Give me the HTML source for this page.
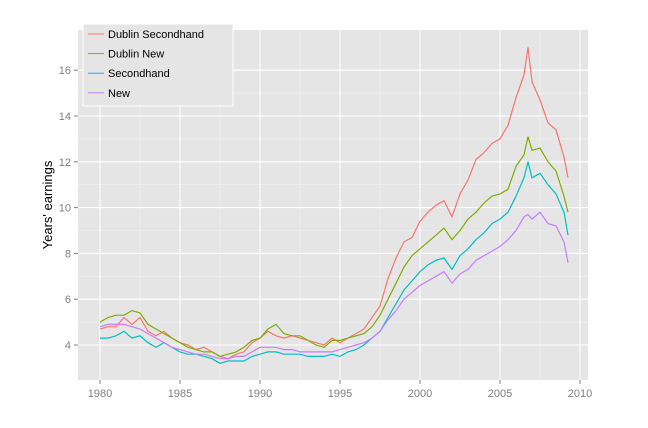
<!DOCTYPE html>
<html><head><meta charset="utf-8"><style>
html,body{margin:0;padding:0;background:#fff;}
svg{display:block;font-family:"Liberation Sans",Arial,sans-serif;}
</style></head><body>
<svg id="chart" width="648" height="428" viewBox="0 0 648 428" xmlns="http://www.w3.org/2000/svg">
<rect x="78" y="30" width="510" height="350" fill="#E5E5E5"/>
<g id="grid"></g>
<g id="series"></g>
<g id="axes"></g>
<text transform="translate(52,205) rotate(-90)" text-anchor="middle" font-size="13" fill="#000">Years' earnings</text>
<g id="legend">
<rect x="83" y="24" width="150" height="82" fill="#E5E5E5" stroke="#fff" stroke-width="1"/>
</g>
</svg>
<script>
const years=[1980,1980.5,1981,1981.5,1982,1982.5,1983,1983.5,1984,1984.5,1985,1985.5,1986,1986.5,1987,1987.5,1988,1988.5,1989,1989.5,1990,1990.5,1991,1991.5,1992,1992.5,1993,1993.5,1994,1994.5,1995,1995.5,1996,1996.5,1997,1997.5,1998,1998.5,1999,1999.5,2000,2000.5,2001,2001.5,2002,2002.5,2003,2003.5,2004,2004.5,2005,2005.5,2006,2006.5,2006.75,2007,2007.5,2008,2008.5,2009,2009.25];
const dublinSecondhand=[4.7,4.8,4.8,5.2,4.9,5.2,4.6,4.4,4.6,4.3,4.1,4.0,3.8,3.9,3.7,3.5,3.4,3.6,3.7,4.1,4.3,4.6,4.4,4.3,4.4,4.3,4.2,4.1,4.0,4.3,4.1,4.3,4.5,4.7,5.2,5.7,6.9,7.8,8.5,8.7,9.4,9.8,10.1,10.3,9.6,10.6,11.2,12.1,12.4,12.8,13.0,13.6,14.8,15.8,17.0,15.5,14.7,13.7,13.4,12.2,11.3];
const dublinNew=[5.0,5.2,5.3,5.3,5.5,5.4,4.9,4.7,4.5,4.3,4.1,3.9,3.8,3.7,3.7,3.5,3.6,3.7,3.9,4.2,4.3,4.7,4.9,4.5,4.4,4.4,4.2,4.0,3.9,4.2,4.2,4.3,4.4,4.5,4.8,5.3,6.0,6.7,7.4,7.9,8.2,8.5,8.8,9.1,8.6,9.0,9.5,9.8,10.2,10.5,10.6,10.8,11.8,12.3,13.1,12.5,12.6,12.0,11.6,10.5,9.8];
const secondhand=[4.3,4.3,4.4,4.6,4.3,4.4,4.1,3.9,4.1,3.9,3.7,3.6,3.6,3.5,3.4,3.2,3.3,3.3,3.3,3.5,3.6,3.7,3.7,3.6,3.6,3.6,3.5,3.5,3.5,3.6,3.5,3.7,3.8,4.0,4.3,4.6,5.2,5.8,6.4,6.8,7.2,7.5,7.7,7.8,7.3,7.9,8.2,8.6,8.9,9.3,9.5,9.8,10.5,11.3,12.0,11.3,11.5,11.0,10.6,9.8,8.8];
const newHomes=[4.8,4.9,4.9,4.9,4.8,4.7,4.5,4.3,4.1,3.9,3.8,3.7,3.6,3.6,3.5,3.4,3.4,3.5,3.5,3.7,3.9,3.9,3.9,3.8,3.8,3.7,3.7,3.7,3.7,3.7,3.8,3.9,4.0,4.1,4.3,4.6,5.1,5.5,6.0,6.3,6.6,6.8,7.0,7.2,6.7,7.1,7.3,7.7,7.9,8.1,8.3,8.6,9.0,9.6,9.7,9.5,9.8,9.3,9.2,8.5,7.6];
const seriesNames=["Dublin Secondhand","Dublin New","Secondhand","New"];
const xTicks=[1980,1985,1990,1995,2000,2005,2010];
const yTicks=[4,6,8,10,12,14,16];

const NS="http://www.w3.org/2000/svg";
const colors=["#F8766D","#7CAE00","#00BFC4","#C77CFF"];
const X=v=>100+(v-1980)*16;
const Y=v=>345-(v-4)*22.9;
function mk(tag,attrs,parent){const e=document.createElementNS(NS,tag);for(const k in attrs)e.setAttribute(k,attrs[k]);parent.appendChild(e);return e;}
const grid=document.getElementById('grid'),axes=document.getElementById('axes'),sg=document.getElementById('series'),lg=document.getElementById('legend');
// minor grid
for(let i=0;i<xTicks.length-1;i++){const m=(xTicks[i]+xTicks[i+1])/2;const l=mk('line',{x1:X(m),x2:X(m),y1:30,y2:380,stroke:'#F2F2F2','stroke-width':0.6},grid);

}
for(let i=0;i<yTicks.length-1;i++){const m=(yTicks[i]+yTicks[i+1])/2;const l=mk('line',{x1:78,x2:588,y1:Y(m),y2:Y(m),stroke:'#F2F2F2','stroke-width':0.6},grid);

}
xTicks.forEach(t=>{const l=mk('line',{x1:X(t),x2:X(t),y1:30,y2:380,stroke:'#fff','stroke-width':1.1},grid);


const k=mk('line',{x1:X(t),x2:X(t),y1:380,y2:384,stroke:'#7F7F7F'},axes);


const tx=mk('text',{x:X(t),y:397,'text-anchor':'middle','font-size':11,fill:'#7F7F7F'},axes);tx.textContent=t;

});
yTicks.forEach(t=>{const l=mk('line',{x1:78,x2:588,y1:Y(t),y2:Y(t),stroke:'#fff','stroke-width':1.1},grid);


const k=mk('line',{x1:74,x2:78,y1:Y(t),y2:Y(t),stroke:'#7F7F7F'},axes);


const tx=mk('text',{x:71,y:Y(t)+4,'text-anchor':'end','font-size':11,fill:'#7F7F7F'},axes);tx.textContent=t;

});
const allSeries=[dublinSecondhand,dublinNew,secondhand,newHomes];
const sNames=['line-dublin-secondhand','line-dublin-new','line-secondhand','line-new'];
allSeries.forEach((s,i)=>{const d=s.map((v,j)=>(j?'L':'M')+X(years[j]).toFixed(1)+','+Y(v).toFixed(1)).join('');
const p=mk('path',{d:d,fill:'none',stroke:colors[i],'stroke-width':1.2},sg);

});
seriesNames.forEach((n,i)=>{const y=34+i*19.6;
const l=mk('line',{x1:88,x2:104,y1:y,y2:y,stroke:colors[i],'stroke-width':1},lg);


const t=mk('text',{x:108,y:y+4,'font-size':11,fill:'#000'},lg);t.textContent=n;

});
</script>
</body></html>
